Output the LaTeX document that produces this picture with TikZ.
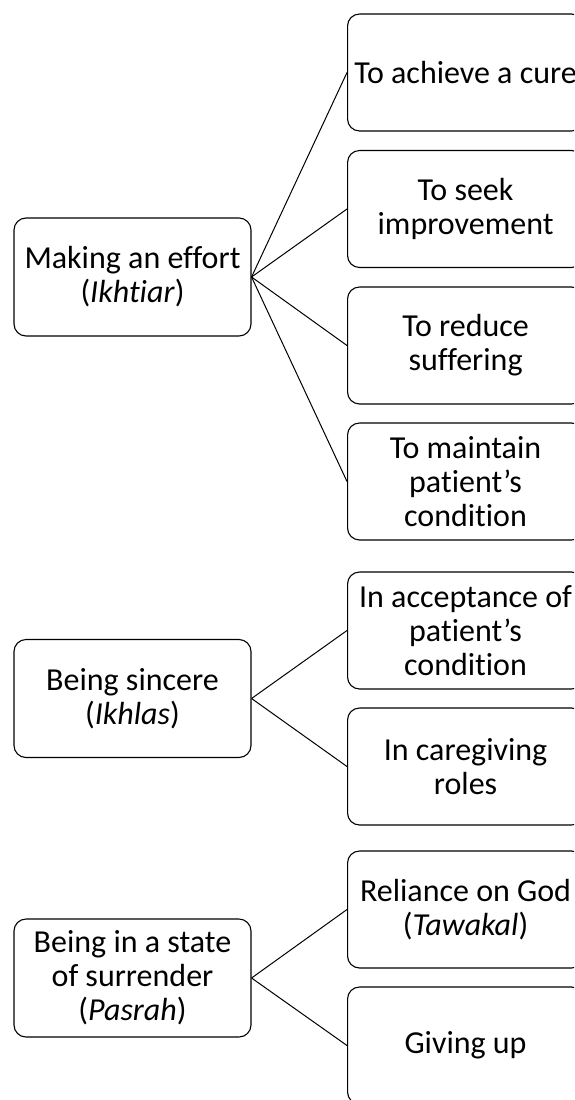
\documentclass[tikz,border=0pt]{standalone}
\usepackage{fontspec}
\setmainfont[Ligatures=NoCommon]{Carlito}
\usetikzlibrary{positioning}
\tikzset{
  theme/.style={draw,rounded corners=12pt,line width=1.1pt,align=center,
    inner sep=2pt,font=\fontsize{32}{34}\selectfont},
  mainbox/.style={theme,minimum width=237pt,minimum height=118pt},
  subbox/.style={theme,minimum width=236pt,minimum height=117pt},
  link/.style={line width=1pt}
}
\begin{document}
\begin{tikzpicture}[x=1pt,y=-1pt]
  \useasboundingbox (0,0) rectangle (574,1100);
  \clip (0,0) rectangle (574,1100);
  \node[mainbox] (effort) at (132.5,277) {Making an effort\\(\textit{Ikhtiar})};
  \node[mainbox] (sincere) at (132.5,698.5) {Being sincere\\(\textit{Ikhlas})};
  \node[mainbox] (surrender) at (132.5,978) {Being in a state\\of surrender\\(\textit{Pasrah})};
  \node[subbox,anchor=west] (cure) at (347,72.5) {To achieve a cure};
  \node[subbox,anchor=west] (improve) at (347,209) {To seek\\improvement};
  \node[subbox,anchor=west] (suffer) at (347,345.5) {To reduce\\suffering};
  \node[subbox,anchor=west] (maintain) at (347,481.5) {To maintain\\patient’s\\condition};
  \node[subbox,anchor=west] (accept) at (347,630.5) {In acceptance of\\patient’s\\condition};
  \node[subbox,anchor=west] (roles) at (347,766.5) {In caregiving\\roles};
  \node[subbox,anchor=west] (reliance) at (347,909.5) {Reliance on God\\(\textit{Tawakal})};
  \node[subbox,anchor=west] (giveup) at (347,1045.5) {Giving up};
  \foreach \t in {cure,improve,suffer,maintain}
    \draw[link] (effort.east) -- (\t.west);
  \foreach \t in {accept,roles}
    \draw[link] (sincere.east) -- (\t.west);
  \foreach \t in {reliance,giveup}
    \draw[link] (surrender.east) -- (\t.west);
\end{tikzpicture}
\end{document}
